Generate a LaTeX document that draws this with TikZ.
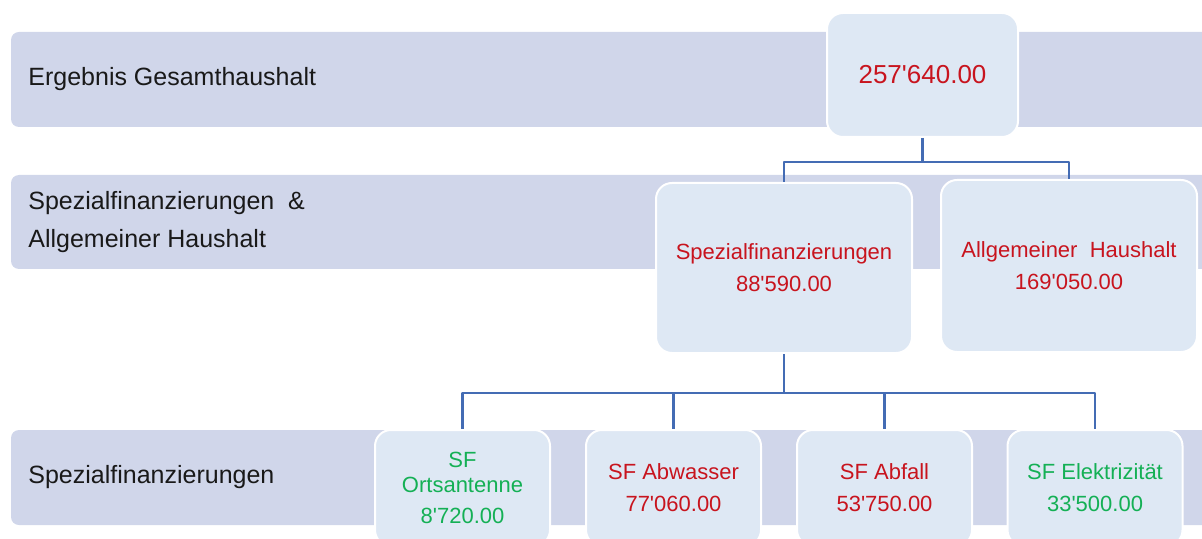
\documentclass[tikz,border=0pt]{standalone}
\usepackage{fontspec}
\setmainfont{Liberation Sans}
\usepackage{tikz}
\definecolor{bandgray}{RGB}{208,214,234}
\definecolor{boxblue}{RGB}{222,232,244}
\definecolor{linkblue}{RGB}{68,108,180}
\definecolor{valred}{RGB}{200,20,30}
\definecolor{valgreen}{RGB}{20,176,85}
\newcommand{\q}{\textquotesingle}

\begin{document}
\begin{tikzpicture}[line cap=round,line join=round,x=0.5pt,y=-0.5pt,
    band/.style={fill=bandgray,rounded corners=4pt},
    bandlabel/.style={anchor=west,inner sep=0pt,align=left,text=black!90,
      font=\fontsize{12.5}{19}\selectfont},
    valbox/.style={draw=white,line width=1pt,fill=boxblue,rounded corners=8pt,
      align=center,inner sep=0pt,text=valred,font=\fontsize{11}{16}\selectfont},
    link/.style={draw=linkblue,line width=1.2pt,line cap=butt}]

    \useasboundingbox (0,0) rectangle (1202,539);
    \clip (0,0) rectangle (1202,539);

    % bands
    \fill[band] (11,32) rectangle (1220,127);
    \fill[band] (11,175) rectangle (1220,269);
    \fill[band] (11,430) rectangle (1220,525);

    \node[bandlabel] (lab1) at (28,79.5) {Ergebnis Gesamthaushalt};
    \node[bandlabel] (lab2) at (28,222) {Spezialfinanzierungen\ \ \&\\Allgemeiner Haushalt};
    \node[bandlabel] (lab3) at (28,477) {Spezialfinanzierungen};

    % boxes
    \node[valbox,minimum width=95.5pt,minimum height=62pt,font=\fontsize{13}{16}\selectfont] (total) at (922.5,75) {257\q 640.00};
    \node[valbox,minimum width=128pt,minimum height=85pt] (sf) at (784,268) {Spezialfinanzierungen\\88\q 590.00};
    \node[valbox,minimum width=128pt,minimum height=86pt] (ah) at (1069,266) {Allgemeiner\ \ Haushalt\\169\q 050.00};

    \node[valbox,minimum width=87.5pt,minimum height=58pt,text=valgreen,font=\fontsize{11}{15.5}\selectfont] (ort) at (462.5,488) {SF\\[-3pt]Ortsantenne\\8\q 720.00};
    \node[valbox,minimum width=87.5pt,minimum height=58pt] (abw) at (673.5,488) {SF Abwasser\\77\q 060.00};
    \node[valbox,minimum width=87.5pt,minimum height=58pt] (abf) at (884.5,488) {SF Abfall\\53\q 750.00};
    \node[valbox,minimum width=87.5pt,minimum height=58pt,text=valgreen] (elt) at (1095,488) {SF Elektrizit\"at\\33\q 500.00};

    % connectors
    \draw[link] (total.south) -- ++(0,24) coordinate (j1) -| (sf.north);
    \draw[link] (j1) -| (ah.north);
    \draw[link] (sf.south) -- ++(0,39) coordinate (j2) -| (ort.north);
    \draw[link] (j2) -| (abw.north);
    \draw[link] (j2) -| (abf.north);
    \draw[link] (j2) -| (elt.north);
\end{tikzpicture}
\end{document}
